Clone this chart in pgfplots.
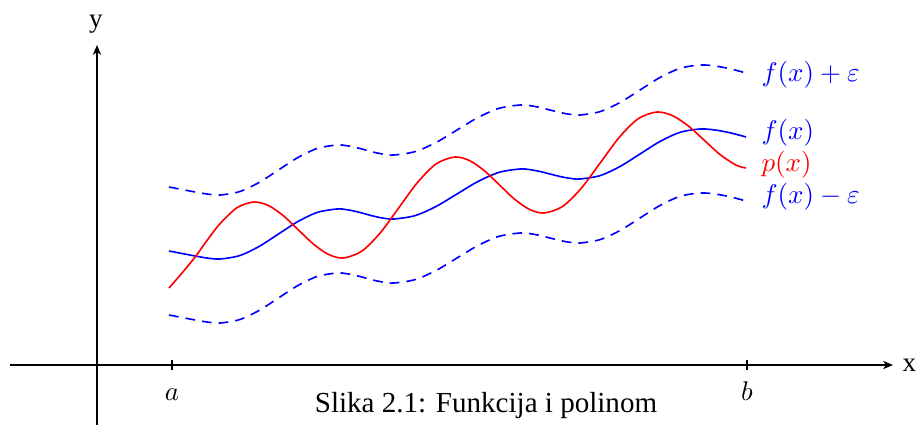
\documentclass[border=0pt]{standalone}
\usepackage{pgfplots}
\pgfplotsset{compat=1.18}
\usepackage{fontspec}
\setmainfont{Liberation Serif}
\usetikzlibrary{arrows.meta}
\begin{document}
\begin{tikzpicture}
\begin{axis}[
  x=0.37pt, y=0.37pt,
  xmin=-87, xmax=796, ymin=-60, ymax=320,
  axis lines=middle,
  enlargelimits=false,
  clip=false,
  axis line style={line width=1pt},
  x axis line style={-{Stealth[length=3.6pt,width=3pt,inset=1pt]}},
  y axis line style={-{Stealth[length=3.6pt,width=3pt,inset=1pt]}},
  xtick={75,650}, xticklabels={$a$,$b$},
  ytick=\empty,
  major tick length=3.6pt,
  tick style={line width=0.4pt, black},
  xticklabel style={anchor=base, yshift=-11.2pt, inner sep=0pt},
]
% f(x)
\addplot[blue, line width=0.6pt, smooth] coordinates {
(72,114) (85,111.5) (98,109) (110,107) (123,106)
(142.5,109.35) (162,118.5) (181.5,131) (201,143.5) (220.5,152.65) (240,156)
(249.5,155.33) (259,153.5) (268.5,151) (278,148.5) (287.5,146.67) (297,146)
(318,149.35) (339,158.5) (360,171) (381,183.5) (402,192.65) (423,196)
(433,195.33) (443,193.5) (453,191) (463,188.5) (473,186.67) (483,186)
(503,189.35) (523,198.5) (543,211) (563,223.5) (583,232.65) (603,236)
(618,235) (634,232) (649,228)};
% f(x)+eps
\addplot[blue, line width=0.6pt, smooth, dash pattern=on 3.6pt off 2.6pt] coordinates {
(72,178) (85,175.5) (98,173) (110,171) (123,170)
(142.5,173.35) (162,182.5) (181.5,195) (201,207.5) (220.5,216.65) (240,220)
(249.5,219.33) (259,217.5) (268.5,215) (278,212.5) (287.5,210.67) (297,210)
(318,213.35) (339,222.5) (360,235) (381,247.5) (402,256.65) (423,260)
(433,259.33) (443,257.5) (453,255) (463,252.5) (473,250.67) (483,250)
(503,253.35) (523,262.5) (543,275) (563,287.5) (583,296.65) (603,300)
(618,299) (634,296) (649,292)};
% f(x)-eps
\addplot[blue, line width=0.6pt, smooth, dash pattern=on 3.6pt off 2.6pt] coordinates {
(72,50) (85,47.5) (98,45) (110,43) (123,42)
(142.5,45.35) (162,54.5) (181.5,67) (201,79.5) (220.5,88.65) (240,92)
(249.5,91.33) (259,89.5) (268.5,87) (278,84.5) (287.5,82.67) (297,82)
(318,85.35) (339,94.5) (360,107) (381,119.5) (402,128.65) (423,132)
(433,131.33) (443,129.5) (453,127) (463,124.5) (473,122.67) (483,122)
(503,125.35) (523,134.5) (543,147) (563,159.5) (583,168.65) (603,172)
(618,171) (634,168) (649,164)};
% p(x)
\addplot[red, line width=0.6pt, smooth] coordinates {
(72,77) (85,92) (98,107.8) (110,124.5) (123,141.3) (140,157.3) (157,163)
(171.83,159.25) (186.67,149) (201.5,135) (216.33,121) (231.17,110.75) (246,107)
(264.67,113.77) (283.33,132.25) (302,157.5) (320.67,182.75) (339.33,201.23) (358,208)
(372.83,204.25) (387.67,194) (402.5,180) (417.33,166) (432.17,155.75) (447,152)
(465.83,158.77) (484.67,177.25) (503.5,202.5) (522.33,227.75) (541.17,246.23) (560,253)
(575.83,249.18) (591.67,238.75) (607.5,224.5) (623.33,210.25) (639.17,199.82) (649,197)};
\node[anchor=base west, inner sep=0pt, blue] at (axis cs:664,283.5) {$f(x)+\varepsilon$};
\node[anchor=base west, inner sep=0pt, blue] at (axis cs:664,225) {$f(x)$};
\node[anchor=base west, inner sep=0pt, red] at (axis cs:664,193) {$p(x)$};
\node[anchor=base west, inner sep=0pt, blue] at (axis cs:664,161) {$f(x)-\varepsilon$};
\node[anchor=base west, inner sep=0pt] at (axis cs:805,-7) {x};
\node[anchor=base, inner sep=0pt] at (axis cs:-1,337.5) {y};
\node[anchor=base, inner sep=0pt, font=\fontsize{10.75pt}{13pt}\selectfont] at (axis cs:389,-48) {Slika 2.1: Funkcija i polinom};
\path (axis cs:-97,-60) rectangle (axis cs:820,365);
\end{axis}
\end{tikzpicture}
\end{document}
